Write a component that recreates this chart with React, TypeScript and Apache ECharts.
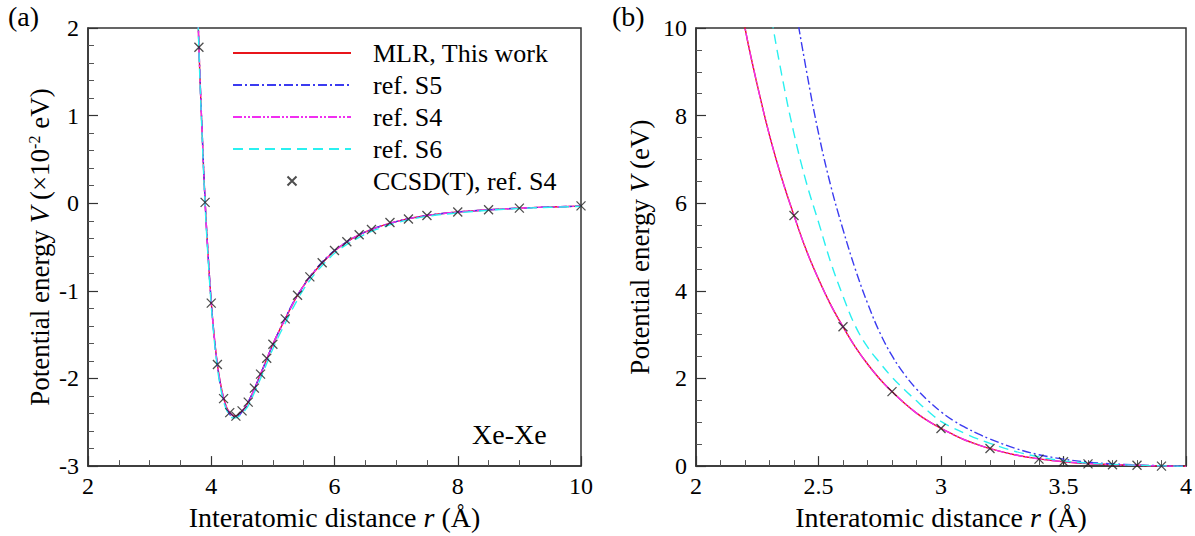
import React, { useEffect, useRef } from "react";
import * as echarts from "echarts";

const FONT = "Liberation Serif, Times New Roman, Times, serif";

// Panel (a): Xe-Xe potential well, V in units of 1e-2 eV
const rA = [3.75, 3.8, 3.85, 3.9, 3.95, 4.0, 4.05, 4.1, 4.15, 4.2, 4.25, 4.3, 4.35, 4.4, 4.45, 4.5, 4.55, 4.6, 4.7, 4.8, 4.9, 5.0, 5.1, 5.2, 5.3, 5.4, 5.5, 5.6, 5.7, 5.8, 5.9, 6.0, 6.2, 6.4, 6.6, 6.8, 7.0, 7.2, 7.5, 8.0, 8.5, 9.0, 9.5, 10.0];
const mlrA = [3.05, 1.78, 0.84, 0.02, -0.6, -1.13, -1.53, -1.84, -2.06, -2.22, -2.33, -2.39, -2.42, -2.43, -2.41, -2.37, -2.33, -2.27, -2.12, -1.95, -1.78, -1.61, -1.46, -1.32, -1.18, -1.05, -0.94, -0.84, -0.76, -0.68, -0.61, -0.545, -0.44, -0.36, -0.3, -0.25, -0.21, -0.175, -0.14, -0.1, -0.075, -0.056, -0.043, -0.033];
const s5A = [3.08, 1.8, 0.86, 0.03, -0.6, -1.13, -1.54, -1.85, -2.08, -2.24, -2.35, -2.41, -2.44, -2.44, -2.42, -2.38, -2.33, -2.27, -2.12, -1.95, -1.78, -1.61, -1.46, -1.31, -1.17, -1.05, -0.94, -0.84, -0.75, -0.67, -0.6, -0.54, -0.44, -0.36, -0.3, -0.25, -0.21, -0.175, -0.14, -0.1, -0.075, -0.056, -0.043, -0.033];
const s4A = [3.05, 1.78, 0.84, 0.02, -0.6, -1.13, -1.53, -1.84, -2.06, -2.22, -2.33, -2.39, -2.42, -2.43, -2.41, -2.37, -2.33, -2.27, -2.12, -1.95, -1.78, -1.61, -1.46, -1.32, -1.18, -1.05, -0.94, -0.84, -0.76, -0.68, -0.61, -0.545, -0.44, -0.36, -0.3, -0.25, -0.21, -0.175, -0.14, -0.1, -0.075, -0.056, -0.043, -0.033];
const s6A = [3.0, 1.74, 0.8, -0.02, -0.64, -1.17, -1.57, -1.88, -2.1, -2.26, -2.36, -2.42, -2.45, -2.45, -2.43, -2.4, -2.36, -2.31, -2.16, -2.0, -1.83, -1.66, -1.51, -1.37, -1.23, -1.1, -0.98, -0.88, -0.79, -0.71, -0.64, -0.57, -0.47, -0.39, -0.32, -0.27, -0.225, -0.19, -0.15, -0.11, -0.08, -0.06, -0.046, -0.036];
const ccsdRA = [3.8, 3.9, 4.0, 4.1, 4.2, 4.3, 4.4, 4.5, 4.6, 4.7, 4.8, 4.9, 5.0, 5.2, 5.4, 5.6, 5.8, 6.0, 6.2, 6.4, 6.6, 6.9, 7.2, 7.5, 8.0, 8.5, 9.0, 10.0];
const ccsdVA = [1.78, 0.01, -1.14, -1.84, -2.23, -2.39, -2.43, -2.37, -2.27, -2.11, -1.95, -1.77, -1.61, -1.32, -1.05, -0.84, -0.68, -0.54, -0.44, -0.36, -0.3, -0.22, -0.18, -0.14, -0.1, -0.075, -0.056, -0.03];

// Panel (b): repulsive wall, V in eV
const rB = [2.15, 2.2, 2.25, 2.3, 2.35, 2.4, 2.45, 2.5, 2.55, 2.6, 2.65, 2.7, 2.75, 2.8, 2.85, 2.9, 2.95, 3.0, 3.05, 3.1, 3.15, 3.2, 3.3, 3.4, 3.5, 3.6, 3.7, 3.8, 3.9, 4.0];
const mlrB = [11.6, 10.0, 8.7, 7.55, 6.57, 5.72, 4.93, 4.27, 3.68, 3.18, 2.72, 2.33, 1.99, 1.7, 1.44, 1.21, 1.02, 0.86, 0.72, 0.59, 0.49, 0.4, 0.26, 0.165, 0.1, 0.058, 0.033, 0.018, 0.002, -0.008];
const s5B = [25.5, 21.4, 18.0, 15.1, 12.7, 10.7, 9.05, 7.6, 6.4, 5.4, 4.5, 3.72, 3.05, 2.52, 2.1, 1.76, 1.48, 1.24, 1.04, 0.88, 0.74, 0.62, 0.41, 0.26, 0.16, 0.09, 0.05, 0.025, 0.008, -0.004];
const s4B = [11.6, 10.0, 8.7, 7.55, 6.57, 5.72, 4.93, 4.27, 3.68, 3.18, 2.72, 2.33, 1.99, 1.7, 1.44, 1.21, 1.02, 0.86, 0.72, 0.59, 0.49, 0.4, 0.26, 0.165, 0.1, 0.058, 0.033, 0.018, 0.002, -0.008];
const s6B = [17.1, 14.5, 12.3, 10.5, 8.93, 7.59, 6.48, 5.57, 4.65, 3.88, 3.2, 2.72, 2.36, 2.03, 1.75, 1.49, 1.24, 1.02, 0.87, 0.74, 0.62, 0.52, 0.34, 0.21, 0.12, 0.07, 0.04, 0.02, 0.005, -0.008];
const ccsdRB = [2.4, 2.6, 2.8, 3.0, 3.2, 3.4, 3.5, 3.6, 3.7, 3.8, 3.9];
const ccsdVB = [5.72, 3.18, 1.7, 0.86, 0.4, 0.16, 0.1, 0.05, 0.03, 0.018, 0.0];

const NAMES = ["MLR, This work", "ref. S5", "ref. S4", "ref. S6", "CCSD(T), ref. S4"];
const COLORS = ["#e8151b", "#3b3bf0", "#f02ef0", "#2af0f0", "#222222"];
const DASHES: (number[] | "solid")[] = ["solid", [9, 3, 2, 3], [9, 2, 2, 2, 2, 2], [10, 6]];
const CROSS = "path://M0,0L10,10M10,0L0,10";

const zip = (xs: number[], ys: number[]) => xs.map((x, i) => [x, ys[i]]);

function curveSeries(idx: number, xs: number[], ys: number[], panel: number) {
  return {
    type: "line",
    name: NAMES[idx],
    xAxisIndex: panel,
    yAxisIndex: panel,
    data: zip(xs, ys),
    symbol: "none",
    showSymbol: false,
    smooth: 0.4,
    clip: true,
    lineStyle: { color: COLORS[idx], width: 1.4, type: DASHES[idx] },
    itemStyle: { color: COLORS[idx] },
    z: 2 + idx,
  };
}

function crossSeries(xs: number[], ys: number[], panel: number) {
  return {
    type: "scatter",
    name: NAMES[4],
    xAxisIndex: panel,
    yAxisIndex: panel,
    data: zip(xs, ys),
    symbol: CROSS,
    symbolSize: 9,
    symbolKeepAspect: true,
    clip: false,
    itemStyle: { color: "transparent", borderColor: COLORS[4], borderWidth: 1.3 },
    z: 10,
  };
}

function xAxis(panel: number, min: number, max: number, interval: number, minorSplit: number) {
  return {
    type: "value",
    gridIndex: panel,
    min,
    max,
    interval,
    axisLine: { show: true, onZero: false, lineStyle: { color: "#333", width: 1.5 } },
    axisTick: { show: true, inside: true, length: 10, lineStyle: { color: "#333", width: 1.2 } },
    minorTick: { show: true, splitNumber: minorSplit, length: 6, lineStyle: { color: "#555", width: 1 } },
    splitLine: { show: false },
    axisLabel: { color: "#000", fontSize: 24, fontFamily: FONT, margin: 8 },
    name: "{n|Interatomic distance }{i|r}{n| (Å)}",
    nameLocation: "middle",
    nameGap: 31,
    nameTextStyle: {
      rich: {
        n: { fontSize: 28, fontFamily: FONT, color: "#000", lineHeight: 30 },
        i: { fontSize: 28, fontFamily: FONT, fontStyle: "italic", color: "#000", lineHeight: 30 },
      },
    },
  };
}

function yAxis(panel: number, min: number, max: number, interval: number, minorSplit: number, name: string, gap: number) {
  return {
    type: "value",
    gridIndex: panel,
    min,
    max,
    interval,
    axisLine: { show: true, onZero: false, lineStyle: { color: "#333", width: 1.5 } },
    axisTick: { show: true, inside: true, length: 10, lineStyle: { color: "#333", width: 1.2 } },
    minorTick: { show: true, splitNumber: minorSplit, length: 6, lineStyle: { color: "#555", width: 1 } },
    splitLine: { show: false },
    axisLabel: { color: "#000", fontSize: 24, fontFamily: FONT, margin: 9 },
    name,
    nameLocation: "middle",
    nameRotate: 90,
    nameGap: gap,
    nameTextStyle: {
      rich: {
        n: { fontSize: 27, fontFamily: FONT, color: "#000", lineHeight: 28 },
        i: { fontSize: 27, fontFamily: FONT, fontStyle: "italic", color: "#000", lineHeight: 28 },
        s: { fontSize: 16, fontFamily: FONT, color: "#000", verticalAlign: "top", lineHeight: 28 },
      },
    },
  };
}

export default function App() {
  const ref = useRef<HTMLDivElement>(null);

  useEffect(() => {
    if (!ref.current) return;
    const chart = echarts.init(ref.current, undefined, { renderer: "svg" });
    const gridBase = { top: 28, height: 446, show: true, borderColor: "#333", borderWidth: 1.5, containLabel: false };
    const hidden = { opacity: 0 };
    chart.setOption({
      animation: false,
      backgroundColor: "#fff",
      grid: [
        { ...gridBase, left: 88, width: 493 },
        { ...gridBase, left: 696, width: 492 },
      ],
      xAxis: [xAxis(0, 2, 10, 2, 4), xAxis(1, 2, 4, 0.5, 5)],
      yAxis: [
        yAxis(0, -3, 2, 1, 5, "{n|Potential energy }{i|V}{n| (×10}{s|-2}{n| eV)}", 34),
        yAxis(1, 0, 10, 2, 4, "{n|Potential energy }{i|V}{n| (eV)}", 42),
      ],
      legend: {
        orient: "vertical",
        left: 227,
        top: 34,
        itemWidth: 118,
        itemHeight: 9,
        itemGap: 4,
        selectedMode: false,
        data: [
          { name: NAMES[0], itemStyle: hidden },
          { name: NAMES[1], itemStyle: hidden },
          { name: NAMES[2], itemStyle: hidden },
          { name: NAMES[3], itemStyle: hidden },
          { name: NAMES[4] },
        ],
        textStyle: { fontFamily: FONT, fontSize: 26, color: "#000", padding: [0, 0, 0, 17], lineHeight: 28 },
      },
      graphic: [
        { type: "text", left: 8, top: 2, style: { text: "(a)", font: `28px ${FONT}`, fill: "#000" } },
        { type: "text", left: 612, top: 2, style: { text: "(b)", font: `28px ${FONT}`, fill: "#000" } },
        { type: "text", left: 472, top: 420, style: { text: "Xe-Xe", font: `28px ${FONT}`, fill: "#000" } },
      ],
      series: [
        curveSeries(0, rA, mlrA, 0),
        curveSeries(1, rA, s5A, 0),
        curveSeries(2, rA, s4A, 0),
        curveSeries(3, rA, s6A, 0),
        crossSeries(ccsdRA, ccsdVA, 0),
        curveSeries(0, rB, mlrB, 1),
        curveSeries(1, rB, s5B, 1),
        curveSeries(2, rB, s4B, 1),
        curveSeries(3, rB, s6B, 1),
        crossSeries(ccsdRB, ccsdVB, 1),
      ],
    });
    return () => chart.dispose();
  }, []);

  return (
    <div
      ref={ref}
      style={{ position: "fixed", left: 0, top: 0, width: 1195, height: 536, background: "#fff" }}
    />
  );
}
